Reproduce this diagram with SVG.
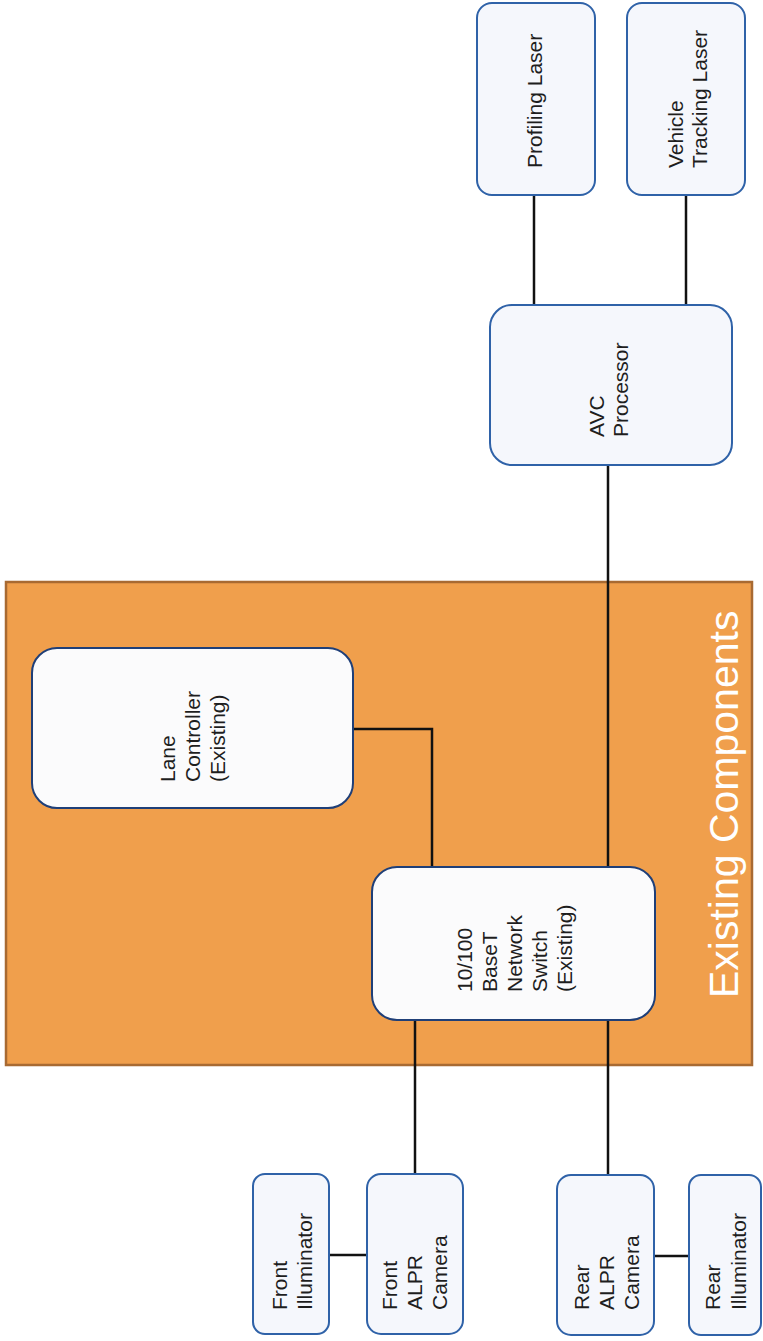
<svg xmlns="http://www.w3.org/2000/svg" width="763" height="1341" viewBox="0 0 763 1341">
<style>
.node{fill:#f5f7fc;stroke:#2f62a8;stroke-width:2}
.ex{fill:#fbfbfc;stroke:#1f3f78;stroke-width:2}
.lbl{font-family:"Liberation Sans",Arial,sans-serif;font-size:21px;fill:#1e1e1e}
.conn{stroke:#111;stroke-width:2.5;fill:none}
.big{font-family:"Liberation Sans",Arial,sans-serif;font-size:41px;fill:#ffffff}
</style>
<rect width="763" height="1341" fill="#ffffff"/>
<g id="existing-components">
<rect x="6" y="582" width="746" height="483" fill="#f09f4c" stroke="#a86a32" stroke-width="2.5"/>
<text class="big" transform="translate(738,998) rotate(-90)">Existing Components</text>
</g>
<g id="connectors">
<line class="conn" x1="534" y1="195" x2="534" y2="305"/>
<line class="conn" x1="686" y1="195" x2="686" y2="305"/>
<line class="conn" x1="608" y1="465" x2="608" y2="867"/>
<line class="conn" x1="608" y1="1020" x2="608" y2="1175"/>
<polyline class="conn" points="353,729 432,729 432,867"/>
<line class="conn" x1="415" y1="1020" x2="415" y2="1174"/>
<line class="conn" x1="329" y1="1255" x2="367" y2="1255"/>
<line class="conn" x1="654" y1="1256" x2="689" y2="1256"/>
</g>
<g id="profiling-laser">
<rect class="node" x="477" y="3" width="118" height="192" rx="15"/>
<text class="lbl" transform="translate(542,168) rotate(-90)">Profiling Laser</text>
</g>
<g id="vehicle-tracking-laser">
<rect class="node" x="627" y="3" width="118" height="192" rx="15"/>
<text class="lbl" transform="translate(683,168) rotate(-90)"><tspan x="0" y="0">Vehicle</tspan><tspan x="0" y="24">Tracking Laser</tspan></text>
</g>
<g id="avc-processor">
<rect class="node" x="490" y="305" width="242" height="160" rx="22"/>
<text class="lbl" transform="translate(604,437) rotate(-90)"><tspan x="0" y="0">AVC</tspan><tspan x="0" y="24">Processor</tspan></text>
</g>
<g id="lane-controller">
<rect class="ex" x="32" y="648" width="321" height="160" rx="25"/>
<text class="lbl" transform="translate(175,782) rotate(-90)"><tspan x="0" y="0">Lane</tspan><tspan x="0" y="25">Controller</tspan><tspan x="0" y="50">(Existing)</tspan></text>
</g>
<g id="network-switch">
<rect class="ex" x="372" y="867" width="283" height="153" rx="25"/>
<text class="lbl" transform="translate(472,992) rotate(-90)"><tspan x="0" y="0">10/100</tspan><tspan x="0" y="25">BaseT</tspan><tspan x="0" y="50">Network</tspan><tspan x="0" y="75">Switch</tspan><tspan x="0" y="100">(Existing)</tspan></text>
</g>
<g id="front-illuminator">
<rect class="node" x="253" y="1174" width="76" height="160" rx="12"/>
<text class="lbl" transform="translate(287,1310) rotate(-90)"><tspan x="0" y="0">Front</tspan><tspan x="0" y="25">Illuminator</tspan></text>
</g>
<g id="front-alpr-camera">
<rect class="node" x="367" y="1174" width="96" height="160" rx="14"/>
<text class="lbl" transform="translate(397,1310) rotate(-90)"><tspan x="0" y="0">Front</tspan><tspan x="0" y="25">ALPR</tspan><tspan x="0" y="50">Camera</tspan></text>
</g>
<g id="rear-alpr-camera">
<rect class="node" x="557" y="1175" width="97" height="160" rx="14"/>
<text class="lbl" transform="translate(589,1310) rotate(-90)"><tspan x="0" y="0">Rear</tspan><tspan x="0" y="25">ALPR</tspan><tspan x="0" y="50">Camera</tspan></text>
</g>
<g id="rear-illuminator">
<rect class="node" x="689" y="1175" width="72" height="160" rx="12"/>
<text class="lbl" transform="translate(720,1310) rotate(-90)"><tspan x="0" y="0">Rear</tspan><tspan x="0" y="26">Illuminator</tspan></text>
</g>
</svg>
